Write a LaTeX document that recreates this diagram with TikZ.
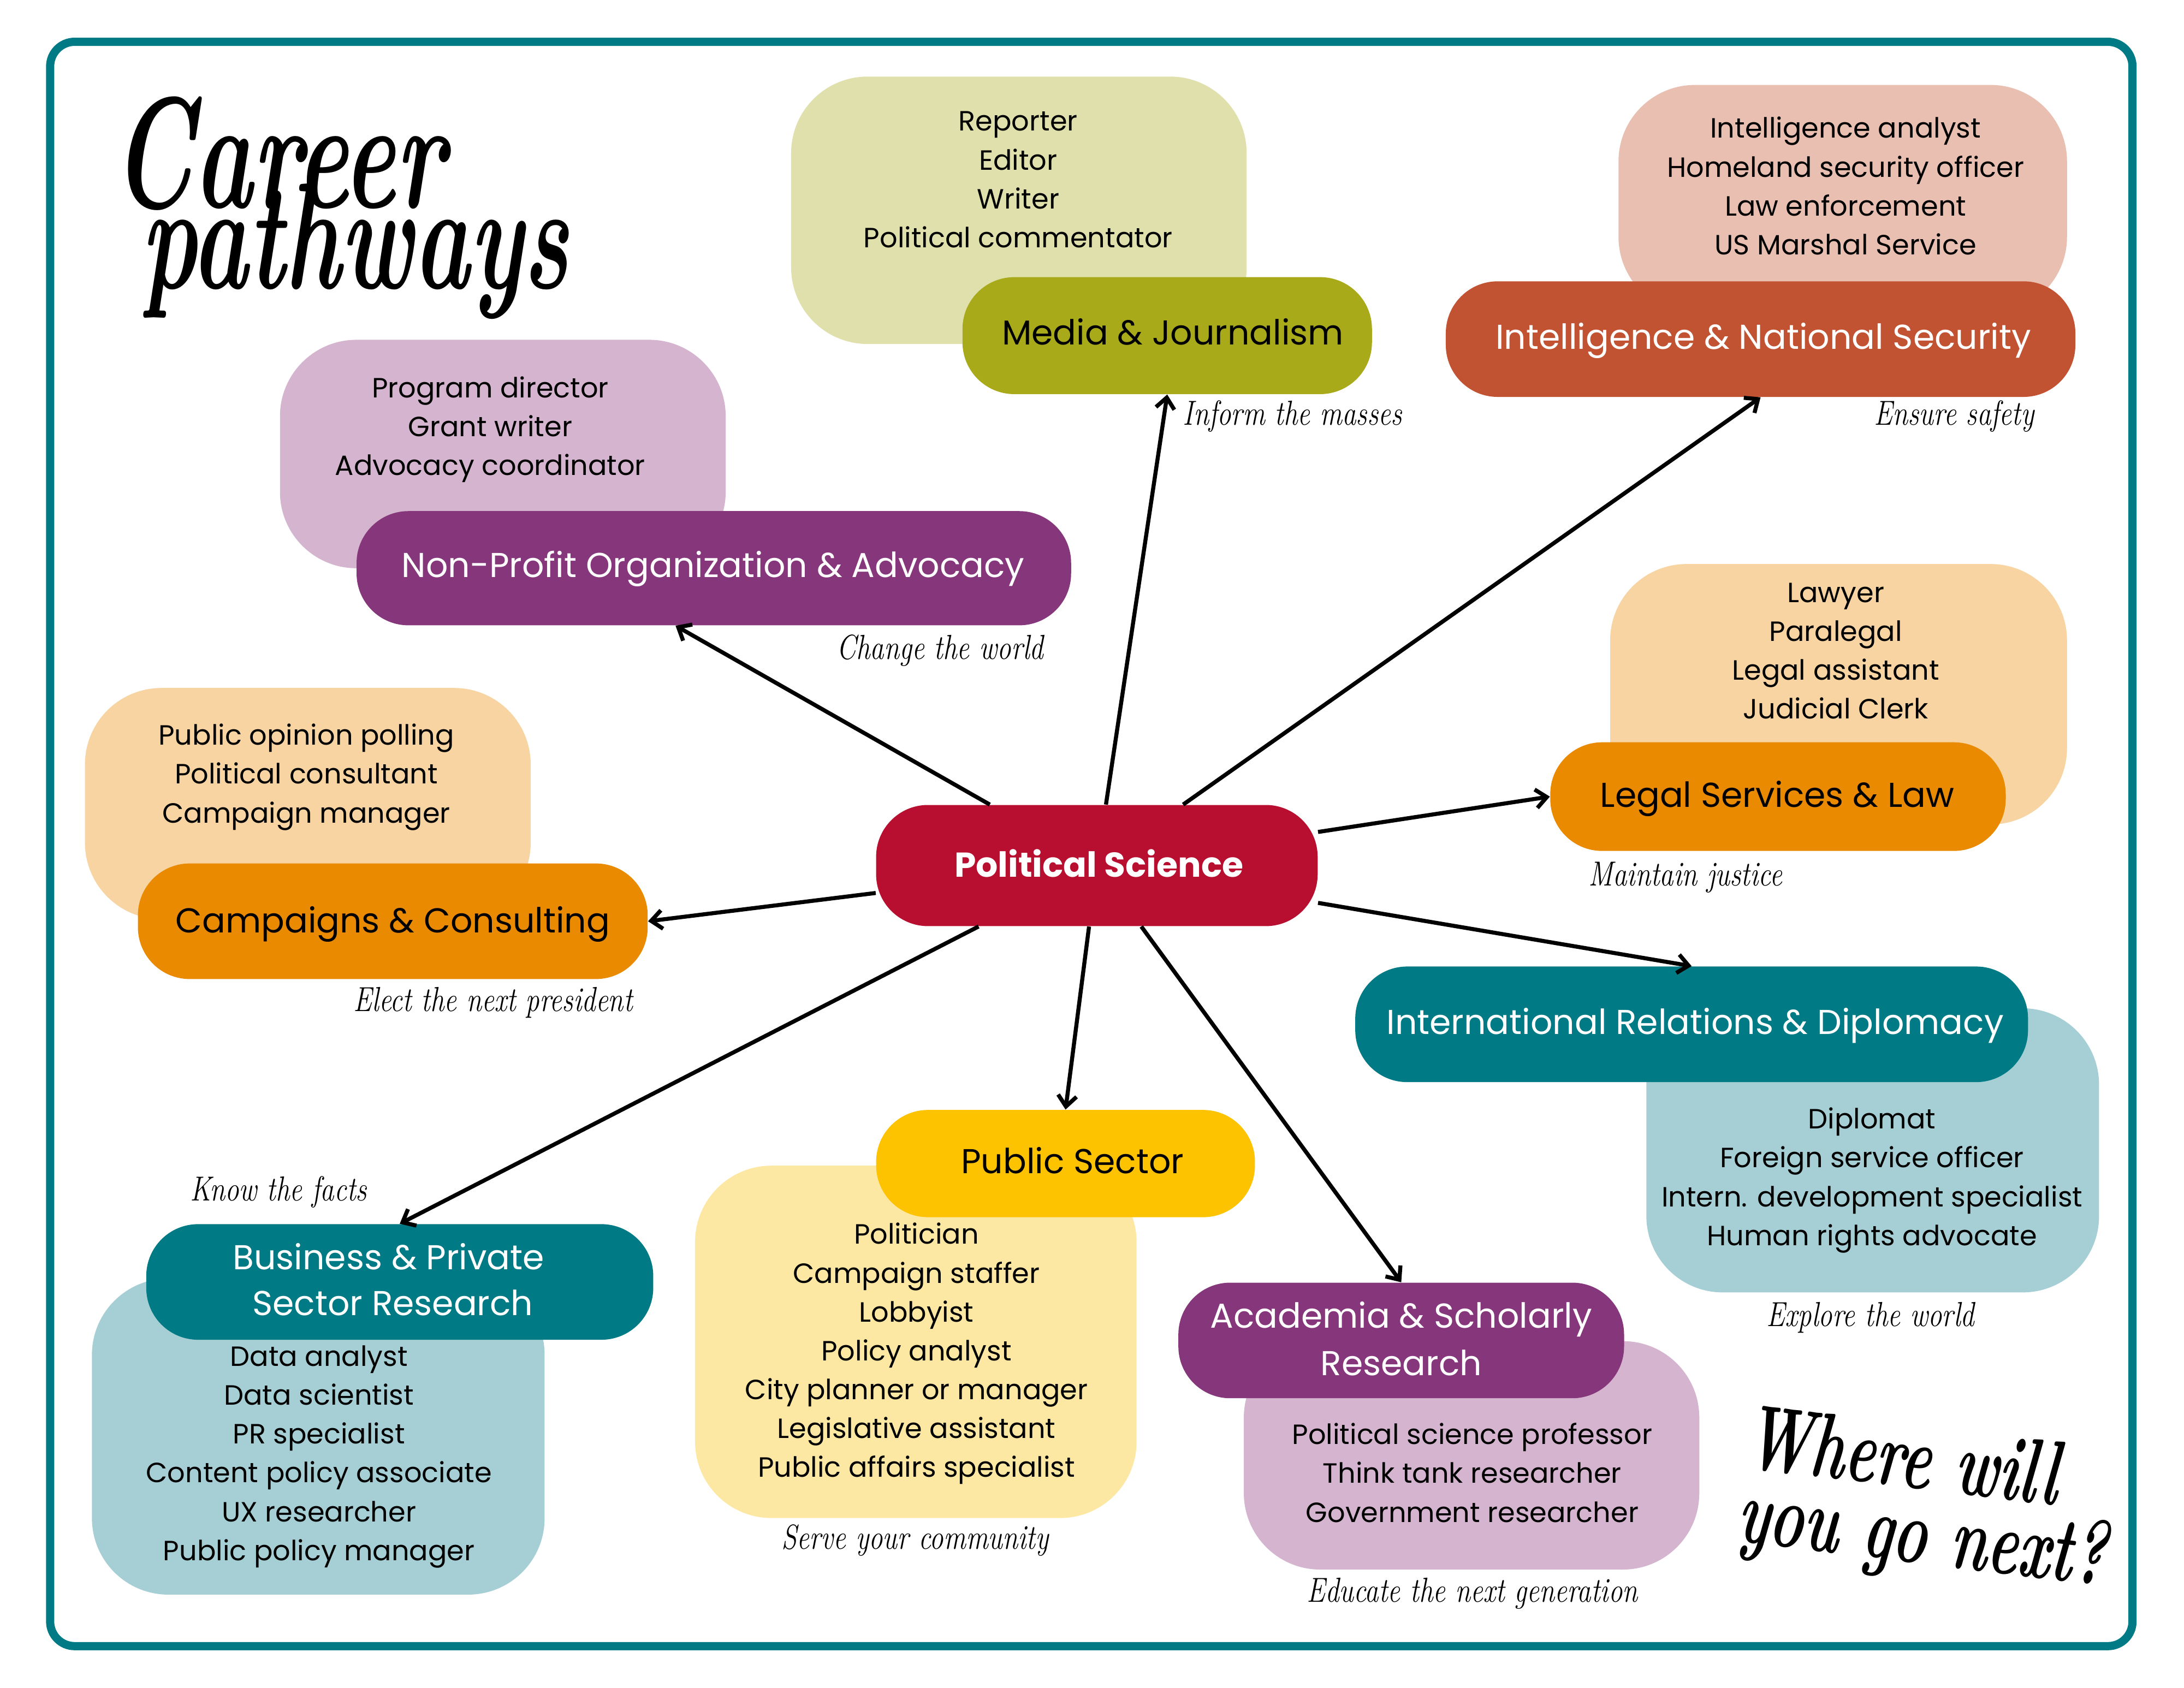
\documentclass[tikz,border=0pt]{standalone}
\usepackage{fontspec}
\setsansfont{Poppins}
\usetikzlibrary{arrows.meta,fit,calc}
\definecolor{cTeal}{HTML}{007A84}
\definecolor{cTealL}{HTML}{A5CFD4}
\definecolor{cPurple}{HTML}{86367A}
\definecolor{cPurpleL}{HTML}{D4B4CF}
\definecolor{cOrange}{HTML}{EA8A00}
\definecolor{cOrangeL}{HTML}{F7D4A2}
\definecolor{cMedia}{HTML}{A8AA1A}
\definecolor{cMediaL}{HTML}{DFE0AB}
\definecolor{cIntel}{HTML}{C15232}
\definecolor{cIntelL}{HTML}{E8BFB0}
\definecolor{cYellow}{HTML}{FDC300}
\definecolor{cYellowL}{HTML}{FDE8A3}
\definecolor{cCrimson}{HTML}{B80F30}
\newcommand{\tallscript}[1]{\scalebox{1}[1.6]{#1}}
\newcommand{\tallcap}[1]{\scalebox{1}[1.25]{#1}}
\begin{document}
\begin{tikzpicture}[x=0.02551cm,y=-0.02551cm,
  lightbox/.style={fill=#1, rounded corners=1.4cm, inner sep=0pt},
  pill/.style={fill=#1, rounded corners=0.95cm, inner sep=0pt},
  ptext/.style={font=\sffamily\fontsize{18}{24}\selectfont, inner sep=0pt, text height=12.6pt, text depth=0pt},
  items/.style={font=\sffamily\fontsize{14.5}{20.25}\selectfont, align=center, inner sep=0pt},
  capt/.style={font=\rmfamily\itshape\fontsize{14.5}{18}\selectfont, inner sep=0pt},
  bigscript/.style={font=\rmfamily\bfseries\itshape\fontsize{#1}{#1}\selectfont, inner sep=0pt},
  arr/.style={line width=2.1pt, -{Straight Barb[length=0.2cm,width=0.34cm,line width=2.1pt]}}]
\useasboundingbox (0,0) rectangle (1568,1212);
\fill[white] (0,0) rectangle (1568,1212);
\draw[cTeal, line width=0.15cm, rounded corners=0.45cm] (36,30) rectangle (1531,1182);

% title
\node[bigscript=51.5, anchor=base] (t1) at (200,149) {\tallscript{Career}};
\node[bigscript=49.5, anchor=base] (t2) at (255,207) {\tallscript{pathways}};
\node[bigscript=30, rotate=-7] (t3) at (1366,1045) {\tallscript{Where will}};
\node[bigscript=30, rotate=-7] (t4) at (1380,1106) {\tallscript{you go next?}};

% Media
\node[lightbox=cMediaL, fit={(568,55) (895,247)}] (mediaL) {};
\node[pill=cMedia, fit={(691,199) (985,283)}] (media) {};
\node[ptext] (mediaT) at (842,239) {Media \& Journalism};
\node[items] (mediaI) at (731,129) {Reporter\\Editor\\Writer\\Political commentator};
\node[capt] (mediaC) at (928,299) {\tallcap{Inform the masses}};

% Intelligence
\node[lightbox=cIntelL, fit={(1162,61) (1484,225)}] (intelL) {};
\node[pill=cIntel, fit={(1038,202) (1490,285)}] (intel) {};
\node[ptext, text=white] (intelT) at (1266,242) {Intelligence \& National Security};
\node[items] (intelI) at (1325,133.5) {Intelligence analyst\\Homeland security officer\\Law enforcement\\US Marshal Service};
\node[capt] (intelC) at (1403,299) {\tallcap{Ensure safety}};

% Non-profit
\node[lightbox=cPurpleL, fit={(201,244) (521,408)}] (npL) {};
\node[pill=cPurple, fit={(256,367) (769,449)}] (np) {};
\node[ptext, text=white] (npT) at (512,406) {Non-Profit Organization \& Advocacy};
\node[items] (npI) at (352,308.5) {Program director\\Grant writer\\Advocacy coordinator};
\node[capt] (npC) at (675,467) {\tallcap{Change the world}};

% Campaigns
\node[lightbox=cOrangeL, fit={(61,494) (381,660)}] (campL) {};
\node[pill=cOrange, fit={(99,620) (465,703)}] (camp) {};
\node[ptext] (campT) at (282,661) {Campaigns \& Consulting};
\node[items] (campI) at (220,558) {Public opinion polling\\Political consultant\\Campaign manager};
\node[capt] (campC) at (354,720) {\tallcap{Elect the next president}};

% Legal
\node[lightbox=cOrangeL, fit={(1156,405) (1484,592)}] (legalL) {};
\node[pill=cOrange, fit={(1113,533) (1440,611)}] (legal) {};
\node[ptext] (legalT) at (1276,571) {Legal Services \& Law};
\node[items] (legalI) at (1318,467.5) {Lawyer\\Paralegal\\Legal assistant\\Judicial Clerk};
\node[capt] (legalC) at (1210,630) {\tallcap{Maintain justice}};

% International
\node[lightbox=cTealL, fit={(1182,724) (1507,928)}] (intlL) {};
\node[pill=cTeal, fit={(973,694) (1456,777)}] (intl) {};
\node[ptext, text=white] (intlT) at (1217,734) {International Relations \& Diplomacy};
\node[items] (intlI) at (1344,847.5) {Diplomat\\Foreign service officer\\Intern. development specialist\\Human rights advocate};
\node[capt] (intlC) at (1343,946) {\tallcap{Explore the world}};

% Academia
\node[lightbox=cPurpleL, fit={(893,963) (1220,1127)}] (acadL) {};
\node[pill=cPurple, fit={(846,921) (1166,1004)}] (acad) {};
\node[ptext, text=white] (acadT1) at (1006,945) {Academia \& Scholarly};
\node[ptext, text=white] (acadT2) at (1006,979) {Research};
\node[items] (acadI) at (1057,1057.5) {Political science professor\\Think tank researcher\\Government researcher};
\node[capt] (acadC) at (1057,1144) {\tallcap{Educate the next generation}};

% Public sector
\node[lightbox=cYellowL, fit={(499,837) (816,1090)}] (pubL) {};
\node[pill=cYellow, fit={(629,797) (901,874)}] (pub) {};
\node[ptext] (pubT) at (770,834) {Public Sector};
\node[items] (pubI) at (658,972) {Politician\\Campaign staffer\\Lobbyist\\Policy analyst\\City planner or manager\\Legislative assistant\\Public affairs specialist};
\node[capt] (pubC) at (657,1106) {\tallcap{Serve your community}};

% Business
\node[lightbox=cTealL, fit={(66,918) (391,1145)}] (busL) {};
\node[pill=cTeal, fit={(105,879) (469,962)}] (bus) {};
\node[ptext, text=white] (busT1) at (279,903) {Business \& Private};
\node[ptext, text=white] (busT2) at (282,936) {Sector Research};
\node[items] (busI) at (229,1046) {Data analyst\\Data scientist\\PR specialist\\Content policy associate\\UX researcher\\Public policy manager};
\node[capt] (busC) at (200,856) {\tallcap{Know the facts}};

% Center
\node[pill=cCrimson, fit={(629,578) (946,665)}] (ps) {};
\node[ptext, text=white, font=\sffamily\bfseries\fontsize{18}{24}\selectfont] (psT) at (789,621) {Political Science};

% arrows
\draw[arr] (ps) -- (media.south);
\draw[arr] (ps) -- (intel.south);
\draw[arr] (ps) -- ($(np.south)+(-27.5,0)$);
\draw[arr] (ps) -- (camp.east);
\draw[arr] (ps) -- (legal.west);
\draw[arr] (ps) -- (intl.north);
\draw[arr] (ps) -- (acad.north);
\draw[arr] (ps) -- (pub.north);
\draw[arr] (ps) -- (bus.north);
\end{tikzpicture}
\end{document}
